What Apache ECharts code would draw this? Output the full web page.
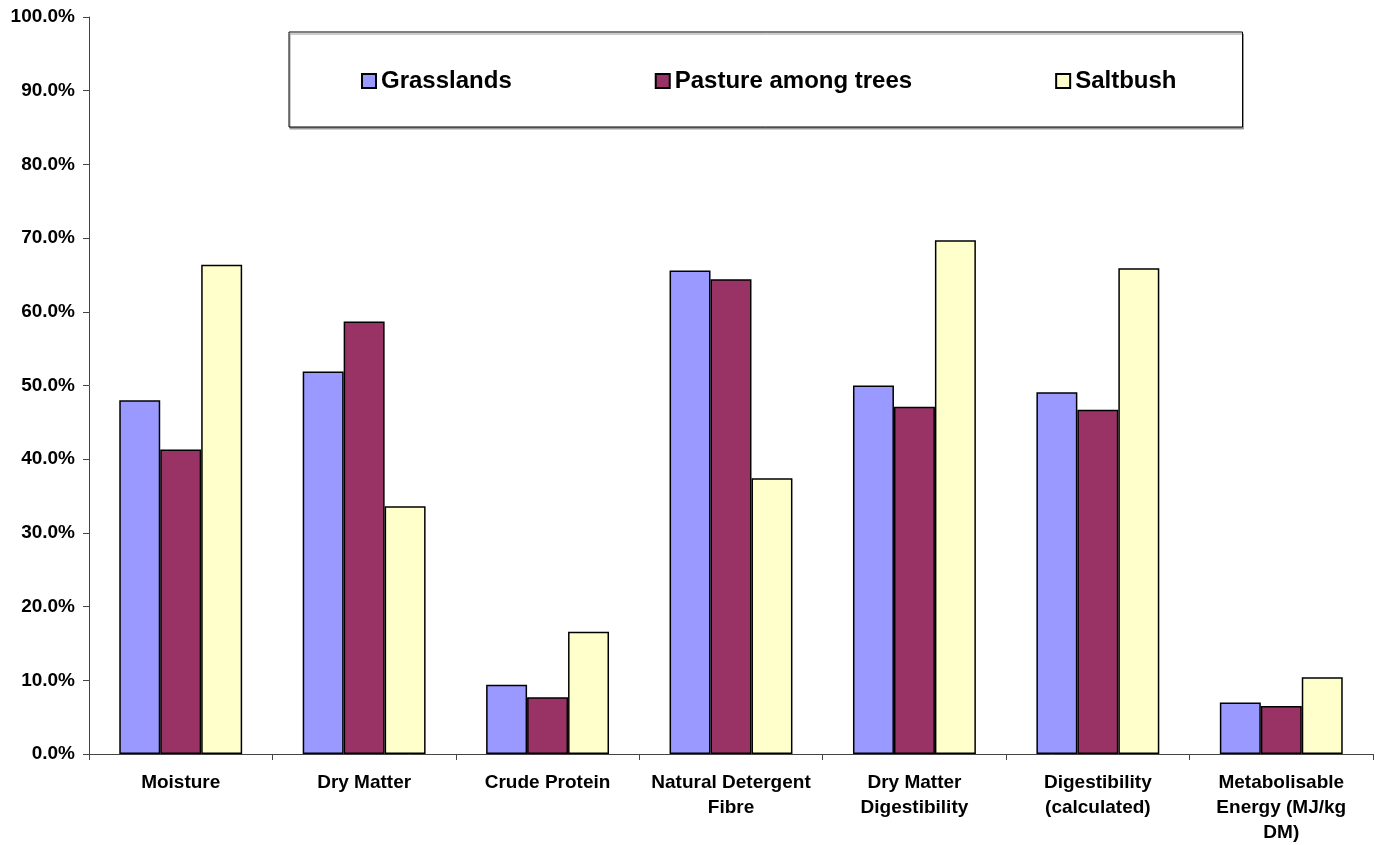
<!DOCTYPE html>
<html>
<head>
<meta charset="utf-8">
<script src="https://cdn.jsdelivr.net/npm/echarts@6/dist/echarts.min.js"></script>
<style>
html,body{margin:0;padding:0;background:#fff;}
#chart{width:1375px;height:845px;}
</style>
</head>
<body>
<div id="chart"></div>
<script>
const categories = [
  'Moisture',
  'Dry Matter',
  'Crude Protein',
  'Natural Detergent\nFibre',
  'Dry Matter\nDigestibility',
  'Digestibility\n(calculated)',
  'Metabolisable\nEnergy (MJ/kg\nDM)'
];
const seriesNames = ['Grasslands', 'Pasture among trees', 'Saltbush'];
const grasslands = [48.0, 51.9, 9.4, 65.6, 50.0, 49.1, 7.0];
const pasture = [41.3, 58.7, 7.7, 64.4, 47.1, 46.7, 6.5];
const saltbush = [66.4, 33.6, 16.6, 37.4, 69.7, 65.9, 10.4];
const colors = ['#9999FF', '#993366', '#FFFFCC'];

const FONT = '"Liberation Sans", Arial, sans-serif';
const chart = echarts.init(document.getElementById('chart'));
const mk = (name, data, color) => ({
  name: name,
  type: 'bar',
  data: data,
  barGap: '0%',
  barCategoryGap: '33%',
  itemStyle: { color: color, borderColor: '#000', borderWidth: 1.5 },
  emphasis: { disabled: true }
});
chart.setOption({
  animation: false,
  backgroundColor: '#fff',
  textStyle: { fontFamily: FONT },
  grid: { left: 89, right: 2, top: 17, bottom: 91, containLabel: false },
  legend: {
    left: 289, top: 32,
    padding: [37, 66, 34, 72],
    itemGap: 143,
    itemWidth: 14, itemHeight: 14,
    icon: 'rect',
    borderColor: '#000', borderWidth: 1,
    backgroundColor: '#fff',
    shadowColor: '#999', shadowOffsetX: 1, shadowOffsetY: 2, shadowBlur: 0,
    textStyle: { fontFamily: FONT, fontWeight: 'bold', fontSize: 24, color: '#000' },
    data: seriesNames
  },
  xAxis: {
    type: 'category',
    data: categories,
    axisLine: { lineStyle: { color: '#444', width: 1 } },
    axisTick: { show: true, alignWithLabel: false, length: 6, lineStyle: { color: '#444' } },
    axisLabel: { interval: 0, margin: 16, fontFamily: FONT, fontWeight: 'bold', fontSize: 19, lineHeight: 25, color: '#000' },
    splitLine: { show: false }
  },
  yAxis: {
    type: 'value',
    min: 0, max: 100, interval: 10,
    axisLine: { show: true, lineStyle: { color: '#444', width: 1 } },
    axisTick: { show: true, length: 6, lineStyle: { color: '#444' } },
    axisLabel: { margin: 14, fontFamily: FONT, fontWeight: 'bold', fontSize: 19, color: '#000',
      formatter: v => v.toFixed(1) + '%' },
    splitLine: { show: false }
  },
  series: [
    mk(seriesNames[0], grasslands, colors[0]),
    mk(seriesNames[1], pasture, colors[1]),
    mk(seriesNames[2], saltbush, colors[2])
  ]
});
</script>
</body>
</html>
